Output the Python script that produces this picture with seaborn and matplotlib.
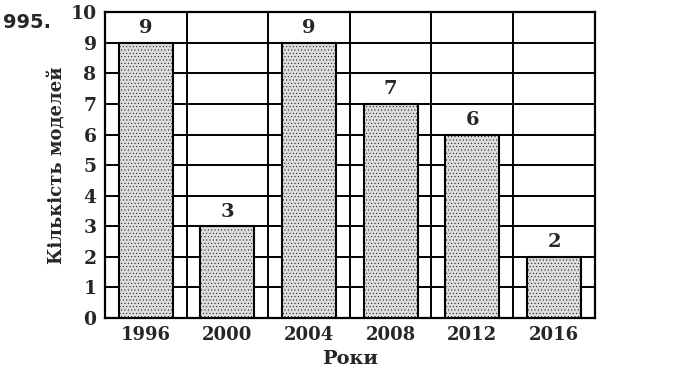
import numpy as np
import pandas as pd
import matplotlib
matplotlib.use('Agg')
import matplotlib.pyplot as plt
import seaborn as sns

# дані з діаграми
years = ['1996', '2000', '2004', '2008', '2012', '2016']
models = [9, 3, 9, 7, 6, 2]
y_ticks = list(range(0, 11))

df = pd.DataFrame({'year': years, 'count': models})

sns.set_style('white')
plt.rcParams['font.family'] = ['DejaVu Serif']
plt.rcParams['hatch.color'] = '#b0b0b0'
plt.rcParams['hatch.linewidth'] = 0.3

fig = plt.figure(figsize=(6.9, 3.8), dpi=100)
ax = fig.add_axes([0.152, 0.163, 0.710, 0.805])

sns.barplot(data=df, x='year', y='count', ax=ax, width=0.66,
            color='#dcdcdc', edgecolor='black', linewidth=1.5, saturation=1)
for p in ax.patches:
    p.set_hatch('.....')
    p.set_zorder(3)

ax.set_ylim(0, 10)
ax.set_xlim(-0.5, len(years) - 0.5)
ax.set_yticks(y_ticks)
ax.set_xticks(np.arange(-0.5, len(years), 1), minor=True)

ax.set_axisbelow(True)
ax.grid(True, axis='y', which='major', color='black', linewidth=1.4)
ax.grid(True, axis='x', which='minor', color='black', linewidth=1.4)
ax.grid(False, axis='x', which='major')

for s in ax.spines.values():
    s.set_linewidth(1.6)
    s.set_color('black')

ax.tick_params(axis='x', which='major', length=0, pad=6, labelsize=13)
ax.tick_params(axis='x', which='minor', length=5, width=1.4, direction='out')
ax.tick_params(axis='y', length=5, width=1.4, direction='out', labelsize=13.5, pad=1)
for t in ax.get_xticklabels() + ax.get_yticklabels():
    t.set_fontweight('bold')

for c in ax.containers:
    ax.bar_label(c, labels=[str(v) for v in models], padding=4,
                 fontsize=14, fontweight='bold')

ax.set_xlabel('Роки', fontsize=14, fontweight='bold', labelpad=4)
ax.set_ylabel('Кількість моделей', fontsize=13, fontweight='bold', labelpad=3)

fig.text(0.005, 0.925, '995.', fontsize=14, fontweight='bold', family='DejaVu Sans')

fig.savefig('out.png', dpi=100)
